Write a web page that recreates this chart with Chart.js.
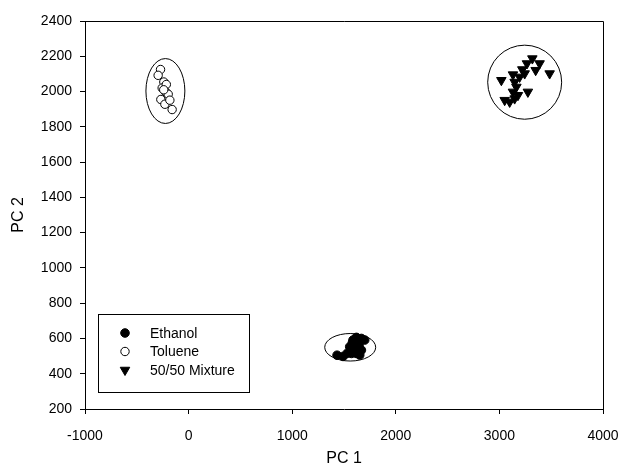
<!DOCTYPE html>
<html>
<head>
<meta charset="utf-8">
<script src="https://cdn.jsdelivr.net/npm/chart.js@4/dist/chart.umd.min.js"></script>
<style>
  html, body { margin: 0; padding: 0; background: #fff; }
  #wrap { width: 621px; height: 468px; }
</style>
</head>
<body>
<div id="wrap"><canvas id="grafico" width="621" height="468"></canvas></div>
<script>
// dados
const ethanolX = [1433, 1491, 1529, 1555, 1587, 1620, 1668, 1700, 1645, 1604, 1572, 1620, 1652, 1581, 1668]
const ethanolY = [505, 498, 515, 553, 591, 606, 600, 591, 563, 544, 515, 515, 506, 576, 534]

const tolueneX = [-271, -294, -239, -255, -222, -197, -268, -229, -181, -159, -215, -240]
const tolueneY = [2125, 2092, 2054, 2020, 1998, 1985, 1955, 1928, 1951, 1898, 2040, 2010]

const mixtureX = [3318, 3388, 3266, 3350, 3221, 3485, 3131, 3244, 3019, 3195, 3147, 3164, 3275, 3179, 3051, 3099, 3147, 3131]
const mixtureY = [2187, 2159, 2159, 2121, 2125, 2102, 2096, 2102, 2064, 2083, 2054, 2026, 1998, 1979, 1951, 1941, 1960, 1998]

const nomes = ['Ethanol', 'Toluene', '50/50 Mixture']

// elipses em volta dos grupos (centro e raios em unidades dos eixos)
const elipseX = [1560, -224, 3244]
const elipseY = [550, 2003, 2053]
const elipseRx = [246, 188, 357]
const elipseRy = [78, 184, 210]

const xTicks = [-1000, 0, 1000, 2000, 3000, 4000]
const yTicks = [200, 400, 600, 800, 1000, 1200, 1400, 1600, 1800, 2000, 2200, 2400]

const fonte = 'Arial, "Liberation Sans", sans-serif'
const pontos = (xs, ys) => xs.map((x, i) => ({ x: x, y: ys[i] }))

// moldura + elipses
const molduraPlugin = {
    id: 'moldura',
    afterDatasetsDraw(chart) {
        const ctx = chart.ctx
        const a = chart.chartArea
        const sx = chart.scales.x
        const sy = chart.scales.y
        ctx.save()
        ctx.strokeStyle = '#000'
        ctx.lineWidth = 1
        ctx.beginPath()
        ctx.moveTo(a.left, a.top + 0.5)
        ctx.lineTo(a.right + 0.5, a.top + 0.5)
        ctx.lineTo(a.right + 0.5, a.bottom)
        ctx.stroke()

        elipseX.forEach((cx, i) => {
            const px = sx.getPixelForValue(cx)
            const py = sy.getPixelForValue(elipseY[i])
            const rx = Math.abs(sx.getPixelForValue(cx + elipseRx[i]) - px)
            const ry = Math.abs(sy.getPixelForValue(elipseY[i] + elipseRy[i]) - py)
            ctx.beginPath()
            ctx.ellipse(px, py, rx, ry, 0, 0, Math.PI * 2)
            ctx.stroke()
        })
        ctx.restore()
    }
}

// legenda dentro da area
const legendaPlugin = {
    id: 'legendaCaixa',
    afterDraw(chart) {
        const ctx = chart.ctx
        ctx.save()
        ctx.strokeStyle = '#000'
        ctx.lineWidth = 1
        ctx.strokeRect(98.5, 314.5, 151, 78)
        ctx.font = '14px ' + fonte
        ctx.textBaseline = 'middle'
        chart.data.datasets.forEach((ds, i) => {
            const y = 333 + i * 18.5
            ctx.fillStyle = ds.pointBackgroundColor
            ctx.strokeStyle = '#000'
            Chart.helpers.drawPoint(ctx, {
                pointStyle: ds.pointStyle,
                radius: ds.pointRadius,
                rotation: ds.pointRotation || 0,
                borderWidth: 1
            }, 125, y)
            ctx.fillStyle = '#000'
            ctx.fillText(ds.label, 150, y + 1)
        })
        ctx.restore()
    }
}

const ctx = document.getElementById('grafico').getContext('2d')
new Chart(ctx, {
    type: 'scatter',
    data: {
        datasets: [{
            label: nomes[0],
            data: pontos(ethanolX, ethanolY),
            pointStyle: 'circle',
            pointRadius: 4.3,
            pointBackgroundColor: '#000',
            pointBorderColor: '#000',
            pointBorderWidth: 1
        }, {
            label: nomes[1],
            data: pontos(tolueneX, tolueneY),
            pointStyle: 'circle',
            pointRadius: 4.2,
            pointBackgroundColor: '#fff',
            pointBorderColor: '#000',
            pointBorderWidth: 1
        }, {
            label: nomes[2],
            data: pontos(mixtureX, mixtureY),
            pointStyle: 'triangle',
            pointRotation: 180,
            pointRadius: 5.5,
            pointBackgroundColor: '#000',
            pointBorderColor: '#000',
            pointBorderWidth: 1
        }]
    },
    options: {
        responsive: false,
        animation: false,
        layout: { padding: { top: 21, right: 0, left: 0, bottom: 0 } },
        plugins: {
            legend: { display: false },
            tooltip: { enabled: false }
        },
        scales: {
            x: {
                type: 'linear',
                min: -1000,
                max: 4000,
                afterBuildTicks: (s) => { s.ticks = xTicks.map(v => ({ value: v })) },
                afterFit: (s) => { s.height = 59; s.paddingRight = 18 },
                border: { display: true, color: '#000', width: 1 },
                grid: { display: true, drawOnChartArea: false, drawTicks: true, tickLength: 5, color: '#000' },
                ticks: { color: '#000', padding: 14, maxRotation: 0, callback: (v) => String(v), font: { size: 14, family: fonte } },
                title: { display: true, text: 'PC 1', color: '#000', padding: { top: 6, bottom: 0 }, font: { size: 16, family: fonte } }
            },
            y: {
                type: 'linear',
                min: 200,
                max: 2400,
                afterBuildTicks: (s) => { s.ticks = yTicks.map(v => ({ value: v })) },
                afterFit: (s) => { s.width = 85 },
                border: { display: true, color: '#000', width: 1 },
                grid: { display: true, drawOnChartArea: false, drawTicks: true, tickLength: 5, color: '#000' },
                ticks: { color: '#000', padding: 8, callback: (v) => String(v), font: { size: 14, family: fonte } },
                title: { display: true, text: 'PC 2', color: '#000', padding: { top: 9, bottom: 0 }, font: { size: 16, family: fonte } }
            }
        }
    },
    plugins: [molduraPlugin, legendaPlugin]
});
</script>
</body>
</html>
